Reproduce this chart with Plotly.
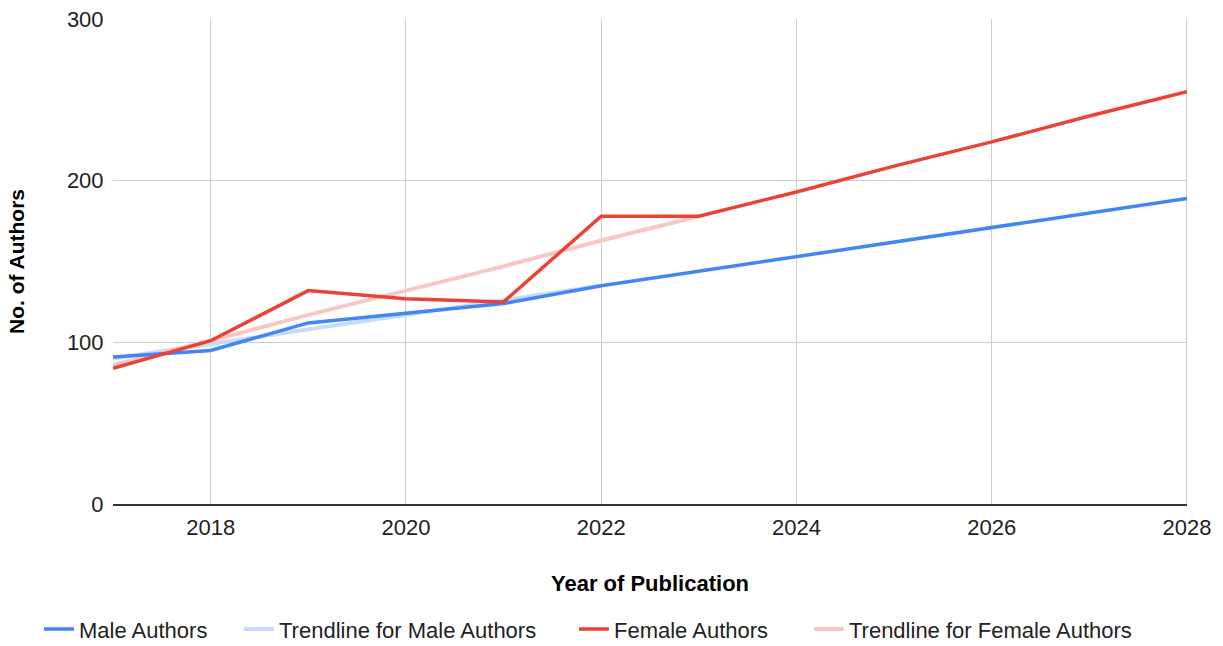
import plotly.graph_objects as go

years = [2017, 2018, 2019, 2020, 2021, 2022, 2023, 2024, 2025, 2026, 2027, 2028]
male_authors = [91, 95, 112, 118, 124, 135, 144, 153, 162, 171, 180, 189]
female_authors = [84, 101, 132, 127, 125, 178, 178, 193, 209, 224, 240, 255]

male_trend_years = [2017, 2018, 2019, 2020, 2021, 2022]
male_trend = [90, 99, 108, 117, 126, 135]
female_trend_years = [2017, 2018, 2019, 2020, 2021, 2022, 2023]
female_trend = [86, 101, 117, 132, 147, 163, 178]

x_ticks = [2018, 2020, 2022, 2024, 2026, 2028]
y_ticks = [0, 100, 200, 300]

FONT = "Arial, 'Liberation Sans', sans-serif"
TXT = "#222222"

fig = go.Figure()
fig.add_trace(go.Scatter(x=male_trend_years, y=male_trend, mode="lines",
                         name="Trendline for Male Authors", legend="legend2",
                         line=dict(color="#c6dafc", width=4)))
fig.add_trace(go.Scatter(x=female_trend_years, y=female_trend, mode="lines",
                         name="Trendline for Female Authors", legend="legend4",
                         line=dict(color="#f6c7c3", width=4)))
fig.add_trace(go.Scatter(x=years, y=male_authors, mode="lines",
                         name="Male Authors", legend="legend",
                         line=dict(color="#4285f4", width=3.5)))
fig.add_trace(go.Scatter(x=years, y=female_authors, mode="lines",
                         name="Female Authors", legend="legend3",
                         line=dict(color="#ea4335", width=3.5)))

def leg(x):
    return dict(orientation="h", x=x, xanchor="left", y=-0.258, yanchor="middle",
                font=dict(size=22, color=TXT), itemwidth=30, bgcolor="rgba(0,0,0,0)")

fig.update_layout(
    width=1223, height=646,
    margin=dict(l=113, r=36, t=19, b=142, autoexpand=False),
    paper_bgcolor="white", plot_bgcolor="white",
    font=dict(family=FONT, size=22, color=TXT),
    showlegend=True,
    legend=leg(-0.0689),
    legend2=leg(0.1173),
    legend3=leg(0.4292),
    legend4=leg(0.6480),
)
fig.update_xaxes(
    range=[2017, 2028], tickvals=x_ticks, ticktext=[str(v) for v in x_ticks],
    showgrid=True, gridcolor="#cccccc", gridwidth=1, automargin=False,
    zeroline=False, showline=True, linecolor="#333333", linewidth=2,
    ticks="outside", ticklen=3, tickcolor="rgba(0,0,0,0)",
    tickfont=dict(size=22, color=TXT),
    title=dict(text="<b>Year of Publication</b>", font=dict(size=22, color="#000000"), standoff=36),
)
fig.update_yaxes(
    range=[0, 300], tickvals=y_ticks,
    showgrid=True, gridcolor="#cccccc", gridwidth=1, automargin=False,
    zeroline=False, showline=False,
    ticks="outside", ticklen=4, tickcolor="rgba(0,0,0,0)",
    tickfont=dict(size=22, color=TXT),
    title=dict(text="<b>No. of Authors</b>", font=dict(size=21, color="#000000"), standoff=36),
)
fig.add_shape(type="line", xref="x", yref="paper", x0=2028, x1=2028, y0=0, y1=1,
              line=dict(color="#cccccc", width=2), layer="below")

fig.write_html("out.html", config={"displayModeBar": False},
               post_script="document.body.style.margin='0px';")
